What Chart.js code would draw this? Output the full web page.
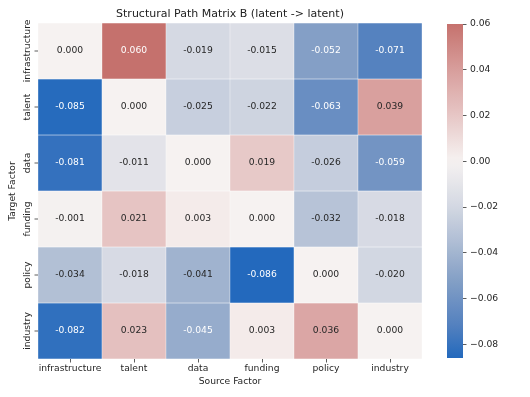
<!DOCTYPE html>
<html>
<head>
<meta charset="utf-8">
<script src="https://cdn.jsdelivr.net/npm/chart.js@4.4.1/dist/chart.umd.min.js"></script>
<style>
  html, body { margin: 0; padding: 0; background: #fff; }
  #wrap { position: relative; width: 530px; height: 397px; }
  #heat { position: absolute; left: 0; top: 0; }
  #cbar { position: absolute; left: 430px; top: 0; }
</style>
</head>
<body>
<div id="wrap">
  <canvas id="heat" width="430" height="397"></canvas>
  <canvas id="cbar" width="100" height="397"></canvas>
</div>
<script>
// Source (columns) and target (rows) factors
const sources = ['infrastructure', 'talent', 'data', 'funding', 'policy', 'industry'];
const targets = ['infrastructure', 'talent', 'data', 'funding', 'policy', 'industry'];

// Path coefficients, one array per target row
const rowInfrastructure = [0.000, 0.060, -0.019, -0.015, -0.052, -0.071];
const rowTalent = [-0.085, 0.000, -0.025, -0.022, -0.063, 0.039];
const rowData = [-0.081, -0.011, 0.000, 0.019, -0.026, -0.059];
const rowFunding = [-0.001, 0.021, 0.003, 0.000, -0.032, -0.018];
const rowPolicy = [-0.034, -0.018, -0.041, -0.086, 0.000, -0.020];
const rowIndustry = [-0.082, 0.023, -0.045, 0.003, 0.036, 0.000];
const matrix = [rowInfrastructure, rowTalent, rowData, rowFunding, rowPolicy, rowIndustry];

// Colorbar ticks
const cbTicks = [-0.08, -0.06, -0.04, -0.02, 0.00, 0.02, 0.04, 0.06];

const FONT = '"DejaVu Sans", sans-serif';
const TEXT = '#262626';
Chart.defaults.font.family = FONT;
Chart.defaults.color = TEXT;

const vMin = Math.min(...matrix.flat());
const vMax = Math.max(...matrix.flat());
const span = Math.max(Math.abs(vMin), Math.abs(vMax)); // centred at 0

// vlag-like diverging map, t in [-1, 1]
const cmapStops = [
    [-1.00, [35, 105, 189]],
    [-0.83, [84, 129, 191]],
    [-0.60, [133, 160, 198]],
    [-0.40, [177, 191, 213]],
    [-0.22, [213, 217, 227]],
    [0.00, [246, 242, 241]],
    [0.24, [230, 197, 196]],
    [0.45, [217, 161, 159]],
    [0.70, [197, 113, 109]],
    [1.00, [169, 55, 59]]
];

function cmapRGB(v) {
    const t = Math.max(-1, Math.min(1, v / span));
    for (let i = 1; i < cmapStops.length; i++) {
        const [t1, c1] = cmapStops[i];
        if (t <= t1) {
            const [t0, c0] = cmapStops[i - 1];
            const f = (t - t0) / (t1 - t0);
            return c0.map((c, k) => Math.round(c + (c1[k] - c) * f));
        }
    }
    return cmapStops[cmapStops.length - 1][1];
}
const cmap = v => `rgb(${cmapRGB(v).join(',')})`;

function textColor(v) {
    const lin = c => { c /= 255; return c <= 0.03928 ? c / 12.92 : Math.pow((c + 0.055) / 1.055, 2.4); };
    const [r, g, b] = cmapRGB(v);
    const lum = 0.2126 * lin(r) + 0.7152 * lin(g) + 0.0722 * lin(b);
    return lum > 0.408 ? TEXT : '#ffffff';
}

// annotations + rotated row labels
const heatLabels = {
    id: 'heatLabels',
    afterDatasetsDraw(chart) {
        const ctx = chart.ctx;
        const area = chart.chartArea;
        const yScale = chart.scales.y;
        ctx.save();
        ctx.font = '9.2px ' + FONT;
        ctx.textAlign = 'center';
        ctx.textBaseline = 'middle';
        chart.data.datasets.forEach((ds, r) => {
            chart.getDatasetMeta(r).data.forEach((bar, c) => {
                const v = matrix[r][c];
                ctx.fillStyle = textColor(v);
                ctx.fillText(v.toFixed(3), bar.x, (bar.y + bar.base) / 2);
            });
        });
        targets.forEach((name, r) => {
            const py = yScale.getPixelForValue(r + 0.5);
            ctx.strokeStyle = '#333';
            ctx.lineWidth = 0.8;
            ctx.beginPath();
            ctx.moveTo(area.left - 3.5, py);
            ctx.lineTo(area.left, py);
            ctx.stroke();
            ctx.save();
            ctx.translate(area.left - 10, py);
            ctx.rotate(-Math.PI / 2);
            ctx.fillStyle = TEXT;
            ctx.fillText(name, 0, 0);
            ctx.restore();
        });
        ctx.restore();
    }
};

new Chart(document.getElementById('heat'), {
    type: 'bar',
    data: {
        labels: sources,
        datasets: targets.map((name, r) => ({
            label: name,
            data: sources.map(() => [r, r + 1]),
            backgroundColor: matrix[r].map(cmap),
            borderColor: 'rgba(255,255,255,0.7)',
            borderWidth: 0.5,
            borderSkipped: false,
            grouped: false,
            barPercentage: 1,
            categoryPercentage: 1
        }))
    },
    options: {
        responsive: false,
        animation: false,
        layout: { padding: { right: 8 } },
        plugins: {
            legend: { display: false },
            tooltip: { enabled: false },
            title: {
                display: true,
                text: 'Structural Path Matrix B (latent -> latent)',
                fullSize: false,
                color: '#222',
                font: { size: 11, weight: 'normal' },
                padding: { top: 8, bottom: 1.8 }
            }
        },
        scales: {
            x: {
                type: 'category',
                grid: { display: true, offset: false, drawOnChartArea: false, tickLength: 3.5, color: '#333', lineWidth: 0.8 },
                border: { display: false },
                ticks: { font: { size: 9.2 }, color: TEXT, padding: 1, maxRotation: 0, autoSkip: false },
                title: { display: true, text: 'Source Factor', font: { size: 9.2 }, color: TEXT, padding: { top: 0, bottom: 9.5 } },
                afterFit: s => { s.height = 38; }
            },
            y: {
                type: 'linear',
                min: 0,
                max: targets.length,
                reverse: true,
                ticks: { display: false },
                grid: { display: false },
                border: { display: false },
                title: { display: true, text: 'Target Factor', font: { size: 9.2 }, color: TEXT, padding: { top: 7.5, bottom: 0 } },
                afterFit: s => { s.width = 38; }
            }
        }
    },
    plugins: [heatLabels]
});

// Colorbar
new Chart(document.getElementById('cbar'), {
    type: 'bar',
    data: {
        labels: [''],
        datasets: [{
            data: [[vMin, vMax]],
            backgroundColor(c) {
                const chart = c.chart;
                if (!chart.chartArea) return null;
                const ys = chart.scales.y;
                const g = chart.ctx.createLinearGradient(0, ys.getPixelForValue(vMin), 0, ys.getPixelForValue(vMax));
                const n = 40;
                for (let i = 0; i <= n; i++) {
                    g.addColorStop(i / n, cmap(vMin + (vMax - vMin) * i / n));
                }
                return g;
            },
            borderWidth: 0,
            barPercentage: 1,
            categoryPercentage: 1
        }]
    },
    options: {
        responsive: false,
        animation: false,
        layout: { padding: { left: 17, top: 24, bottom: 39 } },
        plugins: { legend: { display: false }, tooltip: { enabled: false } },
        scales: {
            x: { display: false },
            y: {
                position: 'right',
                min: vMin,
                max: vMax,
                afterBuildTicks: s => { s.ticks = cbTicks.map(v => ({ value: v })); },
                afterFit: s => { s.width = 67; },
                ticks: {
                    font: { size: 9.2 },
                    color: TEXT,
                    padding: 3.5,
                    callback: v => (v < 0 ? '\u2212' : '') + Math.abs(v).toFixed(2)
                },
                grid: { drawOnChartArea: false, tickLength: 3.5, color: '#333', lineWidth: 0.8 },
                border: { display: false }
            }
        }
    }
});
</script>
</body>
</html>
